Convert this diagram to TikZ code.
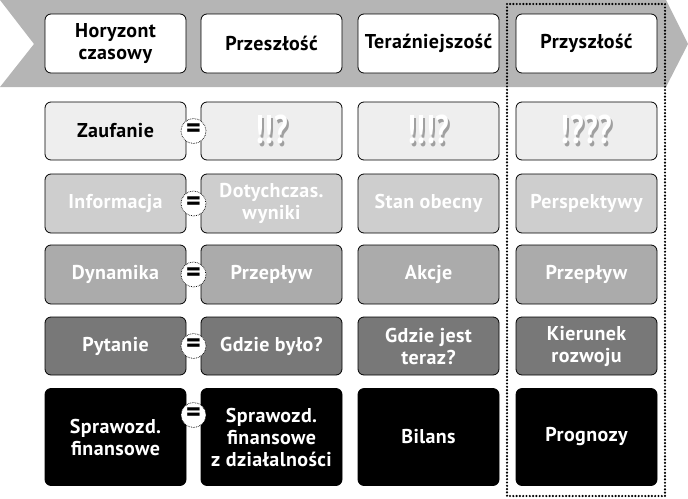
\documentclass[tikz,border=0pt]{standalone}
\usepackage{fontspec}
\setmainfont{PT Sans}[LetterSpace=2]
\definecolor{bandgray}{HTML}{B5B5B5}
\definecolor{rowone}{HTML}{EEEEEE}
\definecolor{rowtwo}{HTML}{CECECE}
\definecolor{rowthree}{HTML}{ABABAB}
\definecolor{rowfour}{HTML}{787878}
\definecolor{shadegray}{HTML}{A0A0A0}
\tikzset{
  cell/.style={draw=black, line width=0.8pt, rounded corners=6pt,
    minimum width=141pt, minimum height=#1, inner sep=0pt, align=center,
    font=\fontsize{20}{22}\selectfont\bfseries},
  eqsign/.style={circle, draw=black, densely dotted, fill=white, line width=0.7pt,
    minimum size=25pt, inner sep=0pt, font=\fontsize{28}{28}\selectfont\bfseries},
  marks/.style={text=white, font=\fontsize{40}{40}\selectfont\bfseries}
}
% white marks with a grey shadow below right
\newcommand{\shademarks}[1]{%
  \rlap{\kern2pt\raisebox{-3pt}{\color{shadegray}\scalebox{0.75}[1]{#1}}}%
  \scalebox{0.75}[1]{#1}}
\begin{document}
\begin{tikzpicture}[x=1pt,y=-1pt]
  \useasboundingbox (0,0) rectangle (688,498);
  % arrow band
  \fill[bandgray] (0,0) -- (666,0) -- (688,44) -- (666,87) -- (0,87) -- (34,44) -- cycle;
  % header
  \node[cell=59pt, fill=white] (hor) at (115.5,43.5) {Horyzont\\czasowy};
  \node[cell=59pt, fill=white] (past) at (271.5,43.5) {Przeszłość};
  \node[cell=59pt, fill=white] (now) at (428.5,43.5) {Teraźniejszość};
  \node[cell=59pt, fill=white] (fut) at (586.5,43.5) {Przyszłość};
  % row 1
  \node[cell=58pt, fill=rowone] (trust) at (115.5,131) {Zaufanie};
  \node[cell=58pt, fill=rowone, marks] (trustpast) at (271.5,131) {\shademarks{!!?}};
  \node[cell=58pt, fill=rowone, marks] (trustnow) at (428.5,131) {\shademarks{!!!?}};
  \node[cell=58pt, fill=rowone, marks] (trustfut) at (586.5,131) {\shademarks{!???}};
  % row 2
  \node[cell=59pt, fill=rowtwo, text=white] (info) at (115.5,203.5) {Informacja};
  \node[cell=59pt, fill=rowtwo, text=white] (infopast) at (271.5,203.5) {Dotychczas.\\wyniki};
  \node[cell=59pt, fill=rowtwo, text=white] (infonow) at (428.5,203.5) {Stan obecny};
  \node[cell=59pt, fill=rowtwo, text=white] (infofut) at (586.5,203.5) {Perspektywy};
  % row 3
  \node[cell=59pt, fill=rowthree, text=white] (dyn) at (115.5,274.5) {Dynamika};
  \node[cell=59pt, fill=rowthree, text=white] (dynpast) at (271.5,274.5) {Przepływ};
  \node[cell=59pt, fill=rowthree, text=white] (dynnow) at (428.5,274.5) {Akcje};
  \node[cell=59pt, fill=rowthree, text=white] (dynfut) at (586.5,274.5) {Przepływ};
  % row 4
  \node[cell=58pt, fill=rowfour, text=white] (ask) at (115.5,346) {Pytanie};
  \node[cell=58pt, fill=rowfour, text=white] (askpast) at (271.5,346) {Gdzie było?};
  \node[cell=58pt, fill=rowfour, text=white] (asknow) at (428.5,346) {Gdzie jest\\teraz?};
  \node[cell=58pt, fill=rowfour, text=white] (askfut) at (586.5,346) {Kierunek\\rozwoju};
  % row 5
  \node[cell=97pt, fill=black, text=white] (rep) at (115.5,437) {Sprawozd.\\finansowe};
  \node[cell=97pt, fill=black, text=white] (reppast) at (271.5,437) {Sprawozd.\\finansowe\\z działalności};
  \node[cell=97pt, fill=black, text=white] (repnow) at (428.5,437) {Bilans};
  \node[cell=97pt, fill=black, text=white] (repfut) at (586.5,437) {Prognozy};
  % equals signs
  \foreach \r/\y in {trust/131, info/203.5, dyn/274.5, ask/346, rep/415}
    \node[eqsign] (eq\r) at (193.5,\y) {=};
  % future frame
  \draw[line width=2.4pt, line cap=round, dash pattern=on 0pt off 3.3pt] (507,4) rectangle (665,496);
\end{tikzpicture}
\end{document}
